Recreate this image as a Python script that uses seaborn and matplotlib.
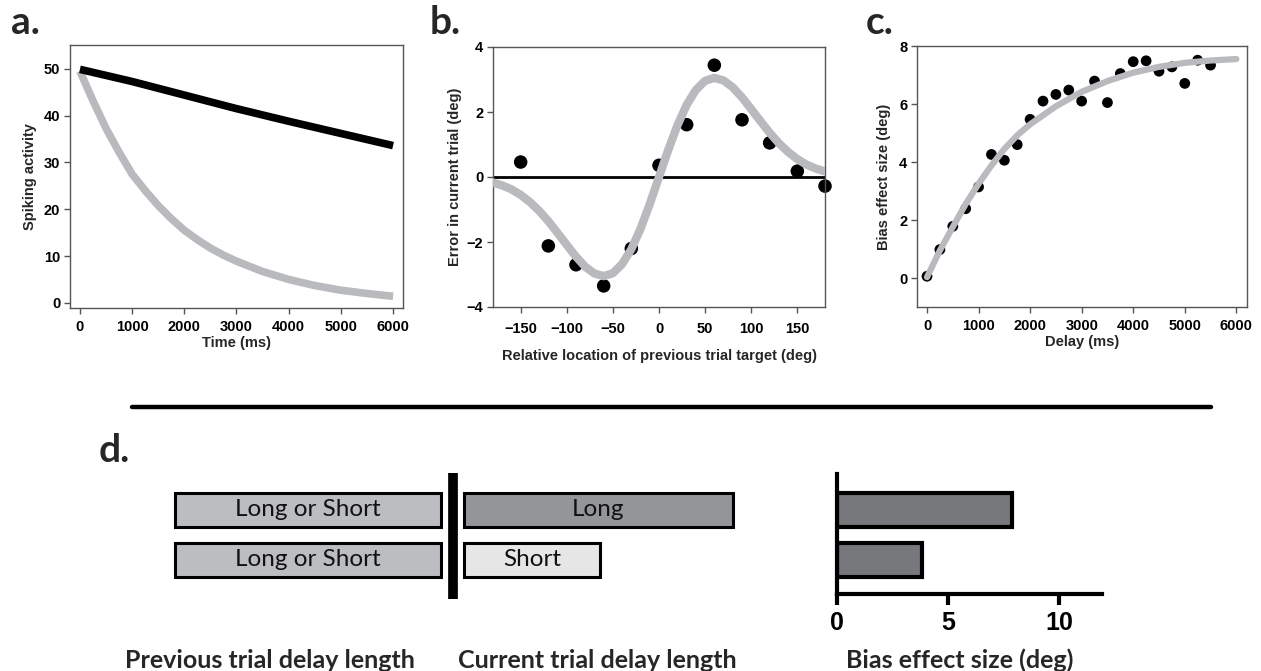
import numpy as np
import pandas as pd
import matplotlib
matplotlib.use("Agg")
import matplotlib.pyplot as plt
import seaborn as sns
from matplotlib.lines import Line2D

# ---------------- data ----------------
a_time_fast = [0, 250, 500, 750, 1000, 1250, 1500, 1750, 2000, 2250, 2500, 2750, 3000,
               3500, 4000, 4500, 5000, 5500, 6000]
a_fast = [49.5, 43.2, 37.3, 32.2, 27.5, 24.0, 20.8, 18.0, 15.5, 13.5, 11.7, 10.2, 8.9,
          6.7, 5.0, 3.7, 2.7, 2.0, 1.4]
a_time_slow = [0, 1000, 2000, 3000, 4000, 5000, 6000]
a_slow = [49.9, 47.3, 44.4, 41.5, 38.8, 36.2, 33.6]

b_loc = [-150, -120, -90, -60, -30, 0, 30, 60, 90, 120, 150, 180]
b_err = [0.46, -2.12, -2.7, -3.35, -2.2, 0.36, 1.61, 3.44, 1.76, 1.05, 0.18, -0.28]
b_fit_loc = [-180, -170, -160, -150, -140, -130, -120, -110, -100, -90, -80, -70, -60,
             -50, -40, -30, -20, -10, 0, 10, 20, 30, 40, 50, 60, 70, 80, 90, 100,
             110, 120, 130, 140, 150, 160, 170, 180]
b_fit = [-0.17, -0.26, -0.38, -0.55, -0.77, -1.04, -1.36, -1.72, -2.09, -2.45, -2.76, -2.97, -3.05,
         -2.96, -2.68, -2.22, -1.59, -0.83, 0.0, 0.83, 1.59, 2.22, 2.68, 2.96, 3.05, 2.97, 2.76,
         2.45, 2.09, 1.72, 1.36, 1.04, 0.77, 0.55, 0.38, 0.26, 0.17]

c_delay = [0, 250, 500, 750, 1000, 1250, 1500, 1750, 2000, 2250, 2500, 2750, 3000,
           3250, 3500, 3750, 4000, 4250, 4500, 4750, 5000, 5250, 5500]
c_bias = [0.06, 0.98, 1.78, 2.39, 3.14, 4.26, 4.06, 4.60, 5.47, 6.10, 6.33, 6.48, 6.10,
          6.79, 6.05, 7.05, 7.46, 7.49, 7.13, 7.28, 6.71, 7.51, 7.34]
c_fit_delay = [0, 250, 500, 750, 1000, 1250, 1500, 1750, 2000, 2500, 3000, 3500, 4000,
               4500, 5000, 5500, 6000]
c_fit = [0.03, 0.95, 1.76, 2.55, 3.25, 3.88, 4.45, 4.92, 5.30, 5.92, 6.42, 6.79, 7.08,
         7.28, 7.42, 7.50, 7.55]

d_rows = ["Long", "Short"]
d_prev_labels = ["Long or Short", "Long or Short"]
d_prev_len = [2.0, 2.0]
d_cur_len = [2.02, 1.02]
d_bias = [7.9, 3.85]

# ---------------- style ----------------
sns.set_style("ticks")
plt.rcParams["font.family"] = ["Liberation Sans", "DejaVu Sans"]
plt.rcParams["font.weight"] = "bold"
plt.rcParams["axes.edgecolor"] = "#555555"
plt.rcParams["axes.linewidth"] = 1.0
plt.rcParams["xtick.color"] = "#555555"
plt.rcParams["ytick.color"] = "#555555"
plt.rcParams["xtick.labelcolor"] = "black"
plt.rcParams["ytick.labelcolor"] = "black"
plt.rcParams["xtick.labelsize"] = 10.5
plt.rcParams["ytick.labelsize"] = 10.5

W, H = 1261, 671
fig = plt.figure(figsize=(W / 100, H / 100), dpi=100)


def px_axes(l, r, t, b):
    return fig.add_axes([l / W, (H - b) / H, (r - l) / W, (b - t) / H])


GRAY = "#b9babd"
lab_font = dict(fontsize=10.5, fontweight="bold")


def style_axes(ax):
    for s in ax.spines.values():
        s.set_visible(True)
        s.set_color("#555555")
    ax.tick_params(direction="out", length=4, width=1, pad=3)
    ax.tick_params(axis="x", pad=5)


# ---- panel a ----
axa = px_axes(70, 403, 45, 308)
sns.lineplot(x=a_time_fast, y=a_fast, ax=axa, color=GRAY, lw=5.5, solid_capstyle="butt")
sns.lineplot(x=a_time_slow, y=a_slow, ax=axa, color="black", lw=5.5, solid_capstyle="butt")
axa.set_xlim(-190, 6190)
axa.set_ylim(-1.1, 55.1)
axa.set_xticks(range(0, 6001, 1000))
axa.set_yticks(range(0, 51, 10))
axa.set_xlabel("Time (ms)", labelpad=1, **lab_font)
axa.set_ylabel("Spiking activity", labelpad=5, **lab_font)
style_axes(axa)

# ---- panel b ----
axb = px_axes(493, 825, 47, 307)
axb.axhline(0, color="black", lw=2, zorder=1)
sns.scatterplot(x=b_loc, y=b_err, ax=axb, color="black", s=95, edgecolor="none", zorder=2, clip_on=False)
sns.lineplot(x=b_fit_loc, y=b_fit, ax=axb, color=GRAY, lw=6, zorder=3)
axb.set_xlim(-180, 180)
axb.set_ylim(-4, 4)
axb.set_xticks(range(-150, 151, 50))
axb.set_yticks(range(-4, 5, 2))
axb.set_xlabel("Relative location of previous trial target (deg)", labelpad=9, **lab_font)
axb.set_ylabel("Error in current trial (deg)", labelpad=3, **lab_font)
style_axes(axb)
axb.tick_params(axis="x", pad=7)

# ---- panel c ----
axc = px_axes(917, 1247, 46, 307)
sns.scatterplot(x=c_delay, y=c_bias, ax=axc, color="black", s=60, edgecolor="none", zorder=2)
sns.lineplot(x=c_fit_delay, y=c_fit, ax=axc, color=GRAY, lw=4.5, zorder=3)
axc.set_xlim(-194, 6207)
axc.set_ylim(-1, 8)
axc.set_xticks(range(0, 6001, 1000))
axc.set_yticks(range(0, 9, 2))
axc.set_xlabel("Delay (ms)", labelpad=1, **lab_font)
axc.set_ylabel("Bias effect size (deg)", labelpad=6, **lab_font)
style_axes(axc)

# ---- panel letters ----
let_font = dict(fontsize=28, fontweight="bold", family=["Lato", "DejaVu Sans"])
fig.text(11 / W, 1 - 34 / H, "a.", **let_font)
fig.text(430 / W, 1 - 34 / H, "b.", **let_font)
fig.text(866 / W, 1 - 34 / H, "c.", **let_font)
fig.text(99 / W, 1 - 462 / H, "d.", **let_font)

# separator line
fig.add_artist(Line2D([132 / W, 1211 / W], [1 - 407 / H, 1 - 407 / H], color="black", lw=3.2))

# ---- panel d schematic ----
axs = px_axes(175, 740, 473, 599)
unit = (441 - 175) / 2.0  # px per schematic unit
cur_start = (464 - 175) / unit
sep_x = (453 - 175) / unit
y_pos = np.arange(len(d_rows))
prev_colors = ["#bcbdc0", "#bcbdc0"]
cur_colors = ["#939598", "#e6e6e7"]
axs.barh(y_pos, d_prev_len, left=0, height=0.68, color=prev_colors, edgecolor="black", lw=2.2,
         clip_on=False)
axs.barh(y_pos, d_cur_len, left=cur_start, height=0.68, color=cur_colors, edgecolor="black", lw=2.2,
         clip_on=False)
axs.axvline(sep_x, color="black", lw=7)
box_font = dict(fontsize=17.5, fontweight="normal", family=["Lato", "DejaVu Sans"],
                ha="center", va="center", color="#111111")
for i in range(len(d_rows)):
    axs.text(d_prev_len[i] / 2, y_pos[i], d_prev_labels[i], **box_font)
    axs.text(cur_start + d_cur_len[i] / 2, y_pos[i], d_rows[i], **box_font)
axs.set_xlim(0, (740 - 175) / unit)
axs.set_ylim(1 + (599 - 560) / 50, -(510 - 473) / 50)
axs.axis("off")

# ---- panel d bias bars ----
axd = px_axes(837, 1102, 474, 594)
df_d = pd.DataFrame({"row": d_rows, "bias": d_bias})
sns.barplot(data=df_d, x="bias", y="row", orient="h", ax=axd, color="#77787b",
            saturation=1, width=0.68, edgecolor="black", linewidth=3)
axd.set_xlim(0, 11.94)
axd.set_ylim(1 + 34 / 50, -36 / 50)
axd.set_xticks([0, 5, 10])
axd.set_yticks([])
axd.set_xlabel("")
axd.set_ylabel("")
sns.despine(ax=axd)
for s in ["left", "bottom"]:
    axd.spines[s].set_color("black")
    axd.spines[s].set_linewidth(3)
axd.tick_params(axis="x", direction="out", length=8, width=3, color="black", pad=4, labelsize=18)

# ---- bottom labels ----
bot_font = dict(fontsize=18, fontweight="bold", family=["Lato", "DejaVu Sans"], ha="center", va="center")
fig.text(270 / W, 1 - 660 / H, "Previous trial delay length", **bot_font)
fig.text(597 / W, 1 - 660 / H, "Current trial delay length", **bot_font)
fig.text(960 / W, 1 - 660 / H, "Bias effect size (deg)", **bot_font)

fig.savefig("out.png", dpi=100, facecolor="white")
